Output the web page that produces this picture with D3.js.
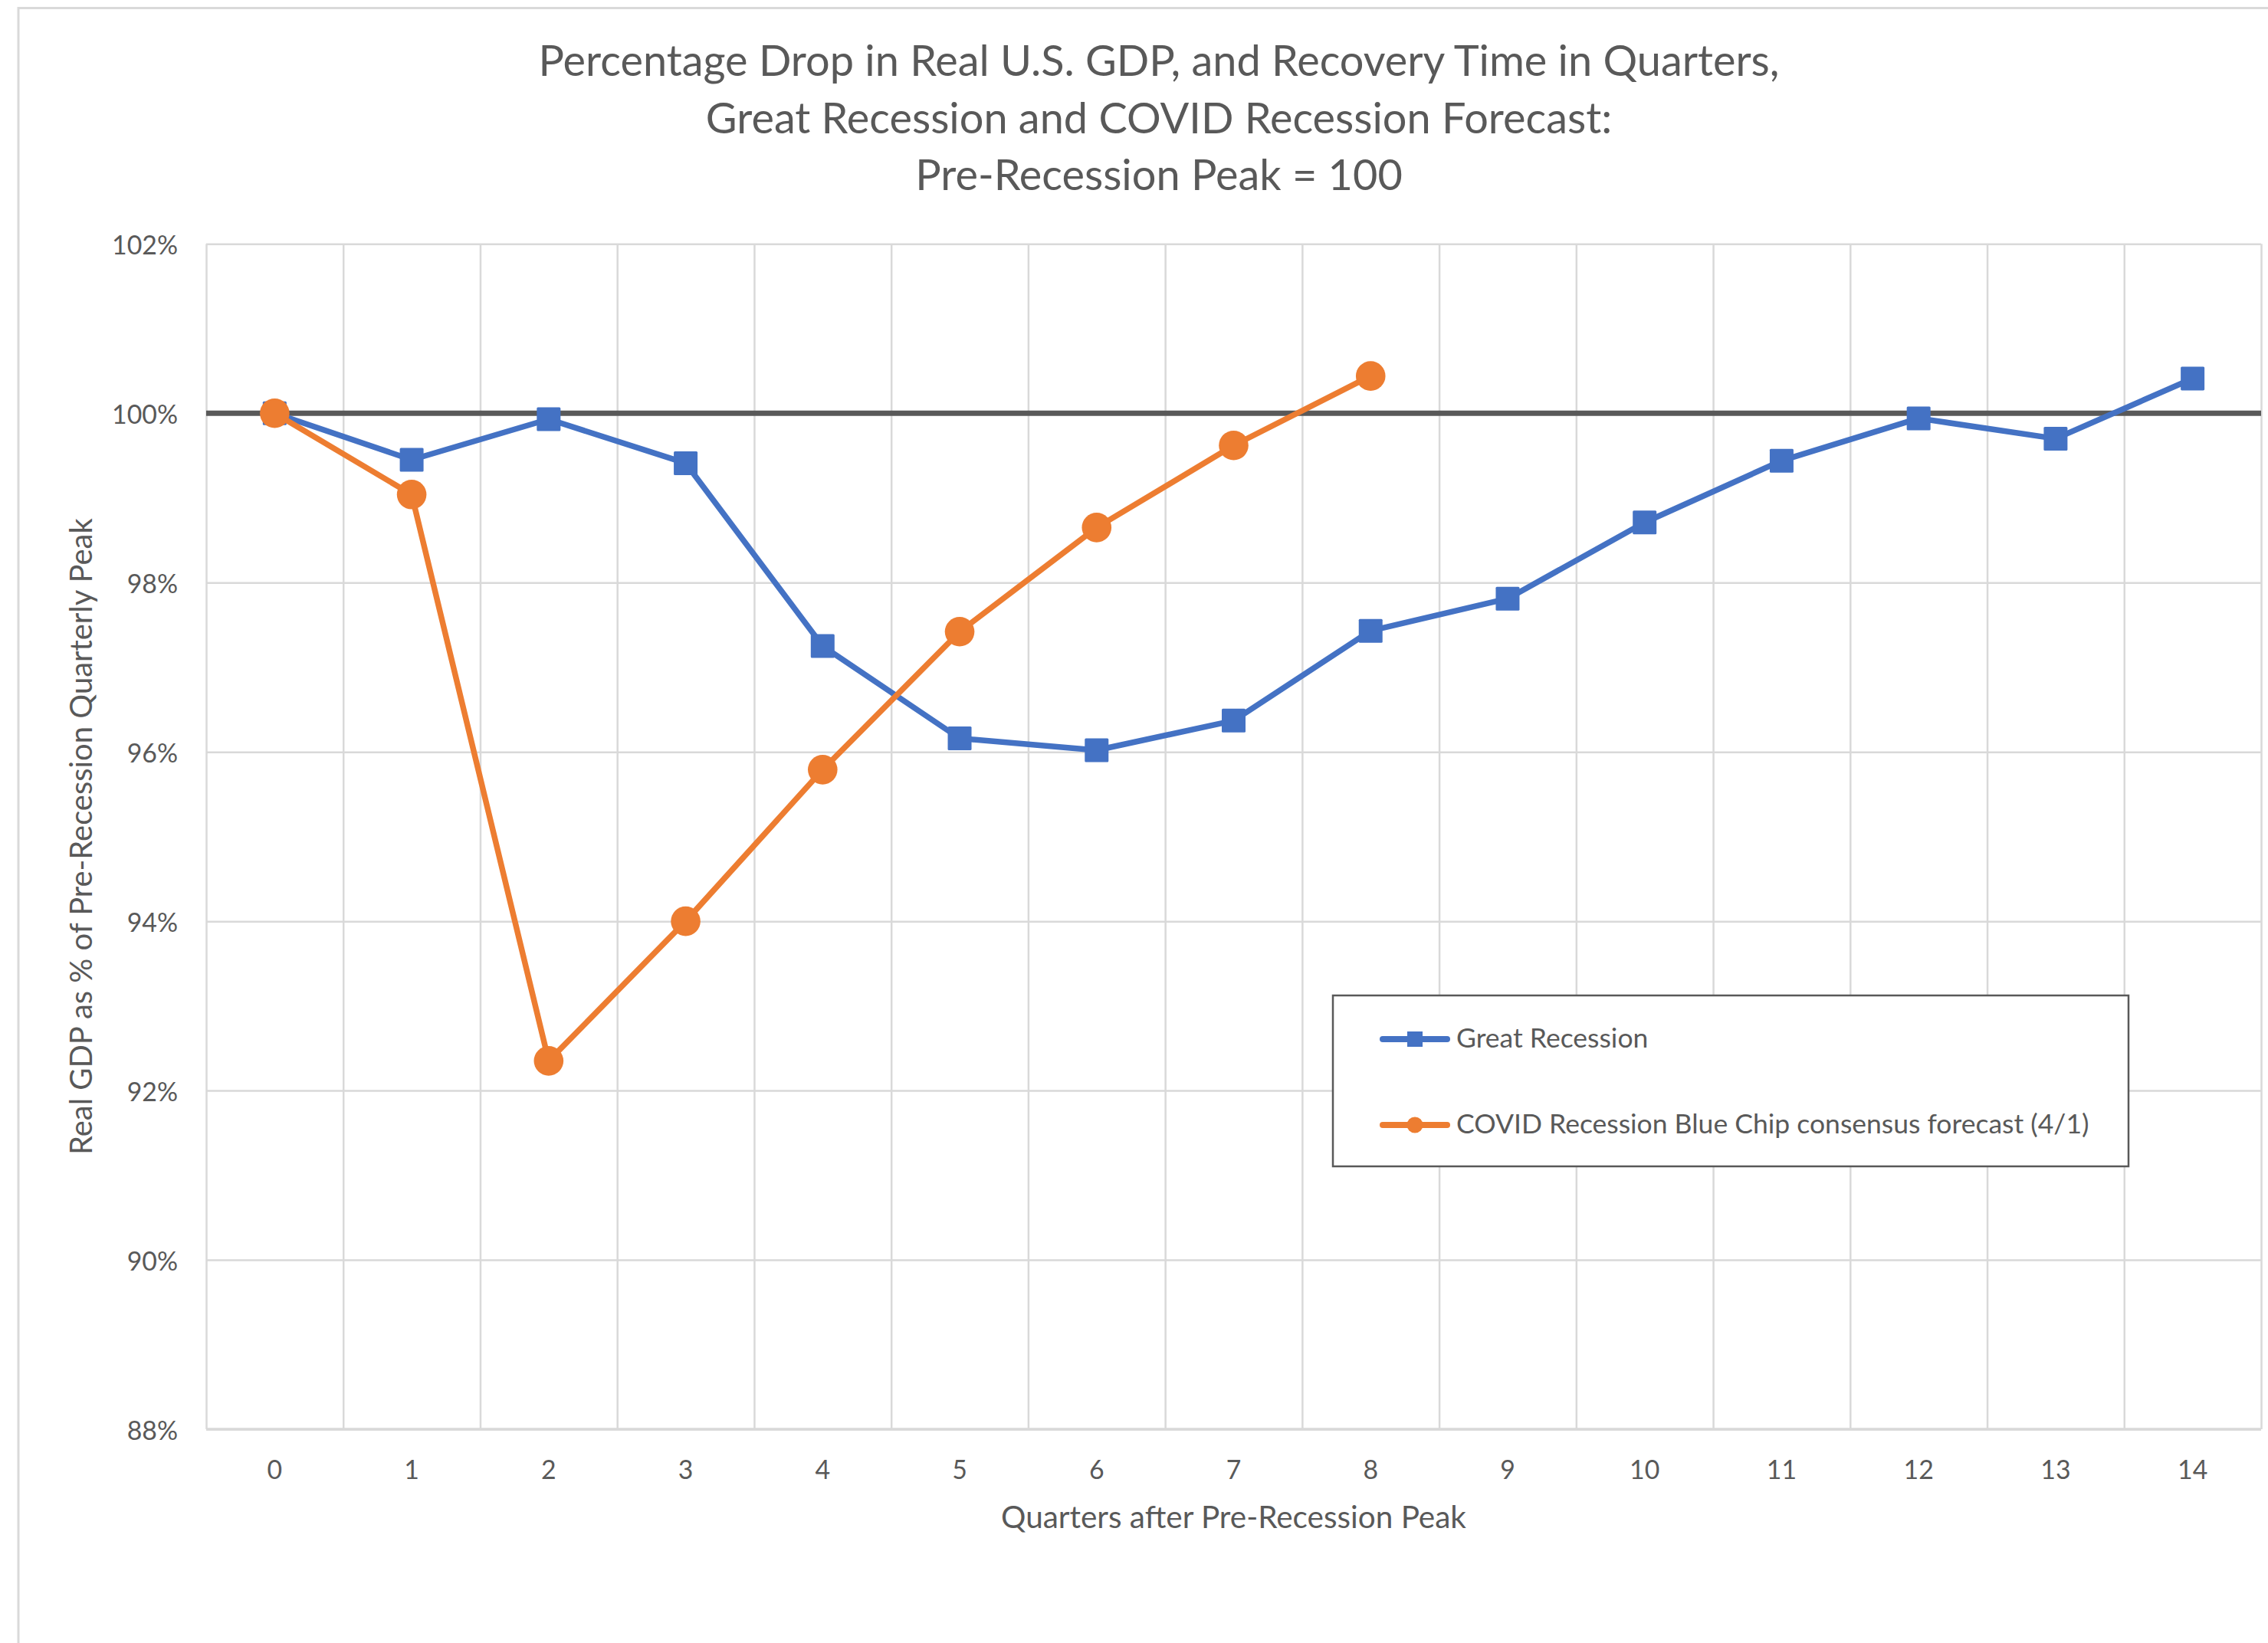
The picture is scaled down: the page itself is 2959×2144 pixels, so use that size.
<!DOCTYPE html>
<html>
<head>
<meta charset="utf-8">
<script src="https://cdn.jsdelivr.net/npm/d3@7"></script>
<style>
  html, body { margin: 0; padding: 0; background: #ffffff; }
  svg { display: block; }
</style>
</head>
<body>
<script>
// ---------- DATA ----------
const categories = [0, 1, 2, 3, 4, 5, 6, 7, 8, 9, 10, 11, 12, 13, 14];
const greatRecession = [100.00, 99.45, 99.93, 99.41, 97.25, 96.16, 96.02, 96.37, 97.43, 97.81, 98.71, 99.44, 99.94, 99.70, 100.41];
const covidForecast = [100.00, 99.04, 92.35, 94.00, 95.79, 97.42, 98.65, 99.62, 100.44];
const yTickValues = [88, 90, 92, 94, 96, 98, 100, 102];
const referenceLevel = 100;
const titleLines = [
  "Percentage Drop in Real U.S. GDP, and Recovery Time in Quarters,",
  "Great Recession and COVID Recession Forecast:",
  "Pre-Recession Peak = 100"
];
const seriesNames = ["Great Recession", "COVID Recession Blue Chip consensus forecast (4/1)"];
const xAxisTitle = "Quarters after Pre-Recession Peak";
const yAxisTitle = "Real GDP as % of Pre-Recession Quarterly Peak";

// ---------- LAYOUT ----------
const W = 2959, H = 2144;
const plot = { left: 269, right: 2950, top: 318.3, bottom: 1865 };
const FONT = "Lato, 'Open Sans', 'Liberation Sans', sans-serif";
const TXT = "#595959";
const GRID = "#d9d9d9";
const BLUE = "#4472C4";
const ORANGE = "#ED7D31";

const svg = d3.select("body").append("svg")
  .attr("width", W).attr("height", H)
  .attr("font-family", FONT);

svg.append("rect").attr("width", W).attr("height", H).attr("fill", "#fff");

// chart area border (only left & top visible in frame)
svg.append("path")
  .attr("d", `M24,${H + 5} L24,10.5 L${W + 5},10.5`)
  .attr("fill", "none").attr("stroke", GRID).attr("stroke-width", 3);

function fitWidth(sel, target) {
  const w = sel.node().getComputedTextLength();
  const fs = parseFloat(sel.attr("font-size"));
  const nfs = fs * target / w;
  sel.attr("font-size", nfs);
  return nfs;
}

// ---------- SCALES ----------
const x = d3.scaleBand().domain(categories).range([plot.left, plot.right]).padding(0);
const xEdge = d3.scaleLinear().domain([0, categories.length]).range([plot.left, plot.right]);
const y = d3.scaleLinear().domain([88, 102]).range([plot.bottom, plot.top]);
const cx = d => x(d) + x.bandwidth() / 2;

// ---------- GRID ----------
const gGrid = svg.append("g");
gGrid.append("g")
  .attr("transform", `translate(${plot.left},0)`)
  .call(d3.axisLeft(y).tickValues(yTickValues).tickSize(-(plot.right - plot.left)).tickFormat(""))
  .call(g => g.select(".domain").remove())
  .call(g => g.selectAll("line").attr("stroke", GRID).attr("stroke-width", 2.5));
gGrid.append("g")
  .attr("transform", `translate(0,${plot.bottom})`)
  .call(d3.axisBottom(xEdge).tickValues(d3.range(0, categories.length + 1)).tickSize(-(plot.bottom - plot.top)).tickFormat(""))
  .call(g => g.select(".domain").remove())
  .call(g => g.selectAll("line").attr("stroke", GRID).attr("stroke-width", 2.5));
// bottom axis line
svg.append("line")
  .attr("x1", plot.left).attr("x2", plot.right)
  .attr("y1", y(88)).attr("y2", y(88))
  .attr("stroke", GRID).attr("stroke-width", 3.5);

// ---------- AXIS LABELS ----------
const yAxisG = svg.append("g")
  .attr("transform", `translate(232,0)`)
  .call(d3.axisLeft(y).tickValues(yTickValues).tickSize(0).tickPadding(0).tickFormat(d => d + "%"))
  .call(g => g.select(".domain").remove());
yAxisG.selectAll("text")
  .attr("fill", TXT).attr("font-family", FONT).attr("font-size", 34)
  .attr("dy", null).attr("dominant-baseline", "central").attr("x", 0);
// fit tick font to reference width of "102%" (~86px)
{
  const t = yAxisG.selectAll("text").filter(d => d === 102);
  const fs = fitWidth(t, 86);
  yAxisG.selectAll("text").attr("font-size", fs);
}
const tickFs = parseFloat(yAxisG.select("text").attr("font-size"));

const xAxisG = svg.append("g")
  .attr("transform", `translate(0,${plot.bottom})`)
  .call(d3.axisBottom(x).tickSize(0).tickPadding(0))
  .call(g => g.select(".domain").remove());
xAxisG.selectAll("text")
  .attr("fill", TXT).attr("font-family", FONT).attr("font-size", tickFs)
  .attr("dy", null).attr("y", 1930 - plot.bottom);

// axis titles
const xt = svg.append("text")
  .attr("x", (plot.left + plot.right) / 2).attr("y", 1994)
  .attr("text-anchor", "middle").attr("fill", TXT).attr("font-size", 34)
  .text(xAxisTitle);
fitWidth(xt, 607);

const yt = svg.append("text")
  .attr("transform", `translate(120,${(plot.top + plot.bottom) / 2}) rotate(-90)`)
  .attr("text-anchor", "middle").attr("fill", TXT).attr("font-size", 34)
  .text(yAxisTitle);
fitWidth(yt, 831);

// ---------- TITLE ----------
const titleBaselines = [99, 173.5, 248];
const titleSel = svg.append("g").selectAll("text").data(titleLines).join("text")
  .attr("x", 1512).attr("y", (d, i) => titleBaselines[i])
  .attr("text-anchor", "middle").attr("fill", TXT).attr("font-size", 50)
  .text(d => d);
{
  const fs = fitWidth(d3.select(titleSel.nodes()[0]), 1619);
  titleSel.attr("font-size", fs);
}

// ---------- REFERENCE LINE ----------
svg.append("line")
  .attr("x1", plot.left).attr("x2", plot.right)
  .attr("y1", y(referenceLevel)).attr("y2", y(referenceLevel))
  .attr("stroke", "#595959").attr("stroke-width", 7);

// ---------- SERIES ----------
const line = d3.line().x((d, i) => cx(categories[i])).y(d => y(d));

svg.append("path").datum(greatRecession)
  .attr("d", line).attr("fill", "none")
  .attr("stroke", BLUE).attr("stroke-width", 7.5).attr("stroke-linejoin", "round");
const sq = 31;
svg.append("g").selectAll("rect").data(greatRecession).join("rect")
  .attr("x", (d, i) => cx(categories[i]) - sq / 2)
  .attr("y", d => y(d) - sq / 2)
  .attr("width", sq).attr("height", sq).attr("rx", 1.5)
  .attr("fill", BLUE);

svg.append("path").datum(covidForecast)
  .attr("d", line).attr("fill", "none")
  .attr("stroke", ORANGE).attr("stroke-width", 7.5).attr("stroke-linejoin", "round");
svg.append("g").selectAll("circle").data(covidForecast).join("circle")
  .attr("cx", (d, i) => cx(categories[i]))
  .attr("cy", d => y(d))
  .attr("r", 19.3)
  .attr("fill", ORANGE);

// ---------- LEGEND ----------
const lg = svg.append("g");
lg.append("rect")
  .attr("x", 1739).attr("y", 1299).attr("width", 1038).attr("height", 223)
  .attr("fill", "#fff").attr("stroke", "#595959").attr("stroke-width", 2.5);
const legendRows = [
  { name: seriesNames[0], color: BLUE, shape: "square", cy: 1356, base: 1367 },
  { name: seriesNames[1], color: ORANGE, shape: "circle", cy: 1468, base: 1479 }
];
legendRows.forEach(r => {
  lg.append("line").attr("x1", 1804).attr("x2", 1888).attr("y1", r.cy).attr("y2", r.cy)
    .attr("stroke", r.color).attr("stroke-width", 8).attr("stroke-linecap", "round");
  if (r.shape === "square") {
    lg.append("rect").attr("x", 1846 - 10).attr("y", r.cy - 10).attr("width", 20).attr("height", 20)
      .attr("fill", r.color);
  } else {
    lg.append("circle").attr("cx", 1846).attr("cy", r.cy).attr("r", 10.5).attr("fill", r.color);
  }
  r.t = lg.append("text").attr("x", 1900).attr("y", r.base)
    .attr("fill", TXT).attr("font-size", 32).text(r.name);
});
{
  const fs = fitWidth(legendRows[1].t, 826);
  legendRows[0].t.attr("font-size", fs);
}
</script>
</body>
</html>
